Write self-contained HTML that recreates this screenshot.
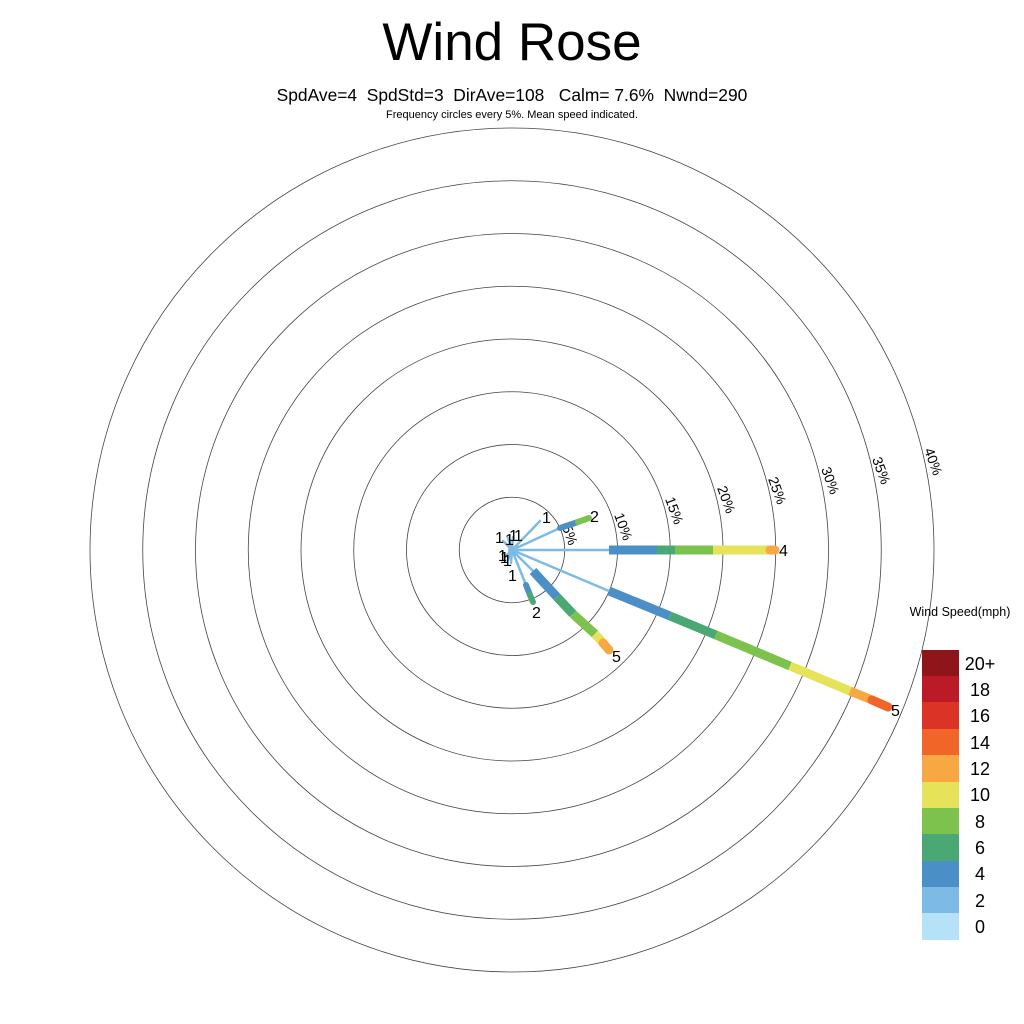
<!DOCTYPE html>
<html><head><meta charset="utf-8"><style>
html,body{margin:0;padding:0;background:#fff;}
svg{display:block;font-family:"Liberation Sans",sans-serif;}
</style></head><body>
<svg width="1024" height="1024" viewBox="0 0 1024 1024" xmlns="http://www.w3.org/2000/svg">
<rect width="1024" height="1024" fill="#fff"/>
<text x="512" y="60" font-size="53" text-anchor="middle">Wind Rose</text>
<text x="512" y="101" font-size="17.4" text-anchor="middle" xml:space="preserve">SpdAve=4  SpdStd=3  DirAve=108   Calm= 7.6%  Nwnd=290</text>
<text x="512" y="118" font-size="11" text-anchor="middle">Frequency circles every 5%. Mean speed indicated.</text>
<g fill="none" stroke="#444" stroke-width="0.8">
<circle cx="512" cy="550" r="52.75"/><circle cx="512" cy="550" r="105.5"/><circle cx="512" cy="550" r="158.25"/><circle cx="512" cy="550" r="211"/><circle cx="512" cy="550" r="263.75"/><circle cx="512" cy="550" r="316.5"/><circle cx="512" cy="550" r="369.25"/><circle cx="512" cy="550" r="422"/>
</g>
<g font-size="14">
<text transform="translate(562,527) rotate(70)">5%</text>
<text transform="translate(614,515) rotate(70)">10%</text>
<text transform="translate(665,499) rotate(70)">15%</text>
<text transform="translate(717,488) rotate(70)">20%</text>
<text transform="translate(768,479) rotate(70)">25%</text>
<text transform="translate(821,469) rotate(70)">30%</text>
<text transform="translate(872,459) rotate(70)">35%</text>
<text transform="translate(924,450) rotate(70)">40%</text>
</g>
<g stroke-linecap="round" fill="none">
<g stroke="#7dbbe6" stroke-width="2.5">
<line x1="512" y1="550" x2="540" y2="521"/>
<line x1="512" y1="550" x2="503" y2="541"/>
<line x1="512" y1="550" x2="508" y2="538"/>
<line x1="512" y1="550" x2="513" y2="537"/>
<line x1="512" y1="550" x2="506" y2="556"/>
<line x1="512" y1="550" x2="508" y2="560"/>
<line x1="512" y1="550" x2="511" y2="563"/>
<line x1="512" y1="550" x2="560" y2="528"/>
<line x1="512" y1="550" x2="609" y2="550"/>
<line x1="512" y1="550" x2="609" y2="591"/>
<line x1="512" y1="550" x2="533" y2="571"/>
<line x1="512" y1="550" x2="526" y2="585"/>
</g>
<circle cx="512" cy="550" r="4" fill="#7dbbe6" stroke="none"/>
<g stroke-width="6">
<line x1="560" y1="528" x2="578" y2="522" stroke="#4a8fc6"/>
<line x1="578" y1="522" x2="589" y2="518" stroke="#7cc24d"/>
<line x1="526" y1="585" x2="530" y2="595" stroke="#4a8fc6"/>
<line x1="530" y1="595" x2="533" y2="602" stroke="#4aa874"/>
</g>
<g stroke-width="9">
<line x1="609" y1="550" x2="657" y2="550" stroke="#4a8fc6" stroke-linecap="butt"/>
<line x1="657" y1="550" x2="675" y2="550" stroke="#4aa874" stroke-linecap="butt"/>
<line x1="675" y1="550" x2="713" y2="550" stroke="#7cc24d" stroke-linecap="butt"/>
<line x1="713" y1="550" x2="770" y2="550" stroke="#e6e25a" stroke-linecap="butt"/>
<line x1="770" y1="550" x2="775" y2="550" stroke="#f7a843"/>
<line x1="533" y1="571" x2="557" y2="597" stroke="#4a8fc6" stroke-linecap="butt"/>
<line x1="557" y1="597" x2="573" y2="614" stroke="#4aa874" stroke-linecap="butt"/>
<line x1="573" y1="614" x2="595" y2="634" stroke="#7cc24d" stroke-linecap="butt"/>
<line x1="595" y1="634" x2="603" y2="643" stroke="#e6e25a" stroke-linecap="butt"/>
<line x1="603" y1="643" x2="609" y2="650" stroke="#f7a843"/>
<line x1="609" y1="591" x2="670" y2="616" stroke="#4a8fc6" stroke-linecap="butt"/>
<line x1="670" y1="616" x2="716" y2="635" stroke="#4aa874" stroke-linecap="butt"/>
<line x1="716" y1="635" x2="790" y2="666" stroke="#7cc24d" stroke-linecap="butt"/>
<line x1="790" y1="666" x2="850" y2="691" stroke="#e6e25a" stroke-linecap="butt"/>
<line x1="850" y1="691" x2="872" y2="700" stroke="#f7a843" stroke-linecap="butt"/>
<line x1="872" y1="700" x2="888" y2="707" stroke="#f26529"/>
</g>
</g>
<g font-size="16">
<text x="542" y="523">1</text>
<text x="590" y="522">2</text>
<text x="779" y="556">4</text>
<text x="612" y="662">5</text>
<text x="891" y="716">5</text>
<text x="532" y="618">2</text>
<text x="508" y="581">1</text>
<text x="495" y="543">1</text>
<text x="505" y="545">1</text>
<text x="509" y="541">1</text>
<text x="514" y="541">1</text>
<text x="498" y="561">1</text>
<text x="500" y="563">1</text>
<text x="503" y="566">1</text>
</g>
<text x="960" y="616" font-size="12.5" text-anchor="middle">Wind Speed(mph)</text>
<g>
<rect x="922" y="650" width="37" height="27" fill="#8f151b"/>
<rect x="922" y="676" width="37" height="27" fill="#ba1b26"/>
<rect x="922" y="702" width="37" height="27" fill="#dc3327"/>
<rect x="922" y="729" width="37" height="27" fill="#f26529"/>
<rect x="922" y="755" width="37" height="27" fill="#f7a843"/>
<rect x="922" y="782" width="37" height="27" fill="#e6e25a"/>
<rect x="922" y="808" width="37" height="27" fill="#7cc24d"/>
<rect x="922" y="834" width="37" height="27" fill="#4aa874"/>
<rect x="922" y="861" width="37" height="27" fill="#4a8fc6"/>
<rect x="922" y="887" width="37" height="27" fill="#7dbbe6"/>
<rect x="922" y="913" width="37" height="27" fill="#b6e2f7"/>
</g>
<g font-size="18" text-anchor="middle">
<text x="980" y="670">20+</text>
<text x="980" y="696">18</text>
<text x="980" y="722">16</text>
<text x="980" y="749">14</text>
<text x="980" y="775">12</text>
<text x="980" y="801">10</text>
<text x="980" y="828">8</text>
<text x="980" y="854">6</text>
<text x="980" y="880">4</text>
<text x="980" y="907">2</text>
<text x="980" y="933">0</text>
</g>
</svg>
</body></html>
